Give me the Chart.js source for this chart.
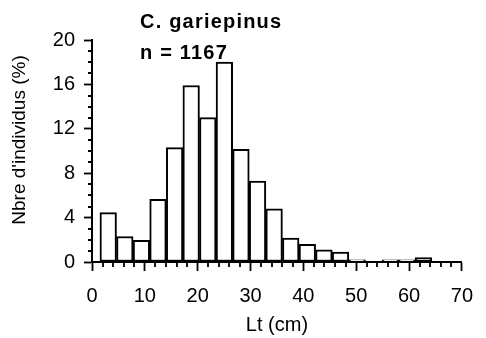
<!DOCTYPE html>
<html>
<head>
<meta charset="utf-8">
<script src="https://cdn.jsdelivr.net/npm/chart.js@4/dist/chart.umd.min.js"></script>
<style>
  html, body { margin: 0; padding: 0; background: #fff; }
  #chart { display: block; }
</style>
</head>
<body>
<canvas id="chart" width="486" height="338"></canvas>
<script>
// Length-frequency histogram, C. gariepinus

const BIN_CENTERS = [3.07, 6.21, 9.35, 12.49, 15.63, 18.77, 21.91, 25.05, 28.19, 31.33,
  34.47, 37.61, 40.75, 43.89, 47.03, 50.17, 53.31, 56.45, 59.59, 62.73];
const PERCENT = [4.45, 2.3, 1.95, 5.65, 10.3, 15.9, 13.0, 18.0, 10.15, 7.3,
  4.8, 2.15, 1.6, 1.1, 0.9, 0.2, 0, 0.2, 0.2, 0.4];
const X_LABELS = [0, 10, 20, 30, 40, 50, 60, 70];
const Y_LABELS = [0, 4, 8, 12, 16, 20];
const SPECIES = 'C. gariepinus';
const N_LABEL = 'n = 1167';
const Y_TITLE = "Nbre d'individus (%)";

const FONT = '"Liberation Sans", Arial, sans-serif';
const BLACK = '#000';

const isXMajor = (v) => X_LABELS.includes(v);
const isYMajor = (v) => Y_LABELS.includes(v);

// short minor ticks, y title, species / n text
const extras = {
  id: 'extras',
  afterDraw(chart) {
    const ctx = chart.ctx;
    const xs = chart.scales.x, ys = chart.scales.y;
    ctx.save();
    ctx.strokeStyle = BLACK;
    ctx.lineWidth = 1.8;
    ctx.beginPath();
    xs.ticks.forEach((t) => {
      if (isXMajor(t.value)) return;
      const px = Math.round(xs.getPixelForValue(t.value));
      ctx.moveTo(px, xs.top);
      ctx.lineTo(px, xs.top + 5);
    });
    ys.ticks.forEach((t) => {
      if (isYMajor(t.value)) return;
      const py = Math.round(ys.getPixelForValue(t.value));
      ctx.moveTo(ys.right, py);
      ctx.lineTo(ys.right - 4, py);
    });
    ctx.stroke();

    ctx.fillStyle = BLACK;
    ctx.textBaseline = 'middle';
    ctx.textAlign = 'center';
    ctx.font = '19px ' + FONT;
    ctx.save();
    ctx.translate(20, 140);
    ctx.rotate(-Math.PI / 2);
    ctx.fillText(Y_TITLE, 0, 0);
    ctx.restore();

    ctx.font = 'bold 20px ' + FONT;
    ctx.textAlign = 'left';
    ctx.letterSpacing = '1.2px';
    ctx.fillText(SPECIES, 140, 22);
    ctx.fillText(N_LABEL, 140, 53);
    ctx.restore();
  },
};

new Chart(document.getElementById('chart'), {
  type: 'bar',
  data: {
    datasets: [{
      data: BIN_CENTERS.map((x, i) => ({ x, y: PERCENT[i] })),
      backgroundColor: '#fff',
      borderColor: BLACK,
      borderWidth: 2,
      borderSkipped: false,
      barThickness: 'flex',
      barPercentage: 1,
      categoryPercentage: 1,
    }],
  },
  options: {
    responsive: false,
    animation: false,
    layout: { padding: { top: 40, right: 16, left: 0, bottom: 0 } },
    plugins: { legend: { display: false }, tooltip: { enabled: false } },
    scales: {
      x: {
        type: 'linear',
        min: 0, max: 70,
        offset: false,
        afterFit: (s) => { s.height = 76; },
        grid: {
          offset: false,
          drawOnChartArea: false,
          tickLength: 9,
          tickWidth: 1.8,
          tickColor: (c) => (c.tick && isXMajor(c.tick.value) ? BLACK : 'rgba(0,0,0,0)'),
        },
        border: { display: true, color: BLACK, width: 2 },
        ticks: {
          stepSize: 2,
          autoSkip: false,
          maxRotation: 0,
          padding: 13,
          color: BLACK,
          font: { family: FONT, size: 20 },
          callback: (v) => (isXMajor(v) ? String(v) : ''),
        },
        title: {
          display: true,
          text: 'Lt (cm)',
          color: BLACK,
          font: { family: FONT, size: 20 },
          padding: { top: 0, bottom: 1 },
        },
      },
      y: {
        min: 0, max: 20,
        afterFit: (s) => { s.width = 92; },
        grid: {
          drawOnChartArea: false,
          tickLength: 8,
          tickWidth: 1.8,
          tickColor: (c) => (c.tick && isYMajor(c.tick.value) ? BLACK : 'rgba(0,0,0,0)'),
        },
        border: { display: true, color: BLACK, width: 2 },
        ticks: {
          stepSize: 1,
          autoSkip: false,
          padding: 9,
          color: BLACK,
          font: { family: FONT, size: 20 },
          callback: (v) => (isYMajor(v) ? String(v) : ''),
        },
      },
    },
  },
  plugins: [extras],
});
</script>
</body>
</html>
